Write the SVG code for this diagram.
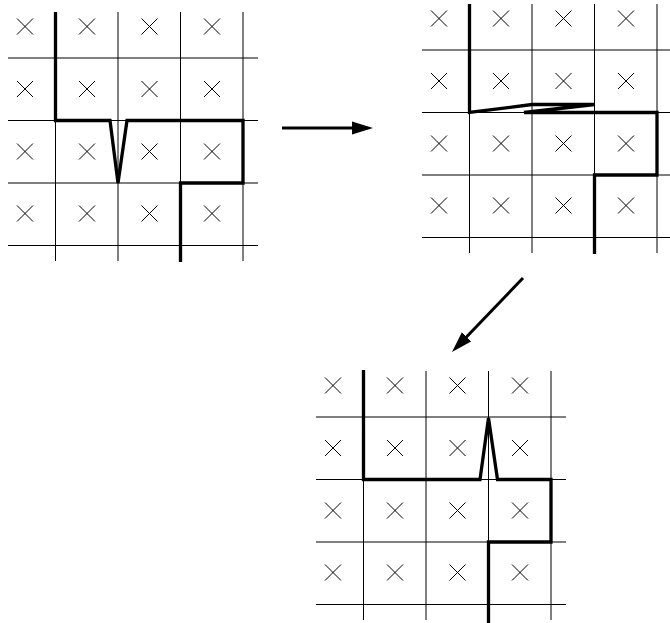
<svg xmlns="http://www.w3.org/2000/svg" xmlns:xlink="http://www.w3.org/1999/xlink" width="670" height="623" viewBox="0 0 670 623">
  <style>
    .thin { stroke: #000; stroke-width: 1; fill: none; }
    .cross { stroke: #000; stroke-width: 1; fill: none; }
    .wall { stroke: #000; stroke-width: 3.3; fill: none; stroke-linejoin: miter; stroke-miterlimit: 4; }
    .arrow { stroke: #000; stroke-width: 3; fill: none; }
  </style>
  <defs>
    <path id="x" class="cross" d="M-8,-8 L8,8 M-8,8 L8,-8"/>
    <g id="grid">
      <path class="thin" d="M55.5,12 V261 M118,12 V261 M180.5,12 V261 M243,12 V261 M8,58 H258 M8,120.5 H258 M8,183 H258 M8,245.5 H258"/>
      <use xlink:href="#x" x="25" y="26.5"/><use xlink:href="#x" x="87" y="26.5"/><use xlink:href="#x" x="149.5" y="26.5"/><use xlink:href="#x" x="212" y="26.5"/>
      <use xlink:href="#x" x="25" y="89"/><use xlink:href="#x" x="87" y="89"/><use xlink:href="#x" x="149.5" y="89"/><use xlink:href="#x" x="212" y="89"/>
      <use xlink:href="#x" x="25" y="151.5"/><use xlink:href="#x" x="87" y="151.5"/><use xlink:href="#x" x="149.5" y="151.5"/><use xlink:href="#x" x="212" y="151.5"/>
      <use xlink:href="#x" x="25" y="213.5"/><use xlink:href="#x" x="87" y="213.5"/><use xlink:href="#x" x="149.5" y="213.5"/><use xlink:href="#x" x="212" y="213.5"/>
    </g>
    <marker id="head" markerUnits="userSpaceOnUse" markerWidth="22" markerHeight="14" refX="4" refY="7" orient="auto">
      <path d="M0,0.5 L21,7 L0,13.5 z" fill="#000"/>
    </marker>
  </defs>

  <g id="grid1">
    <use xlink:href="#grid"/>
    <path class="wall" d="M55.5,12 V120.5 H110 L118,183 L127,120.5 H243 V183 H180.5 V262"/>
  </g>

  <g id="grid2" transform="translate(414,-8)">
    <use xlink:href="#grid"/>
    <path class="wall" d="M55.5,12 V120.5 L118,112.5 H180.5 L110,120.5 H243 V183 H180.5 V262"/>
  </g>

  <g id="grid3" transform="translate(308,359)">
    <use xlink:href="#grid"/>
    <path class="wall" d="M55.5,11 V120.5 H172 L180.5,59 L189.5,120.5 H243 V183 H180.5 V264"/>
  </g>

  <g id="connectors">
    <line class="arrow" x1="282" y1="128" x2="356" y2="128" marker-end="url(#head)"/>
    <line class="arrow" x1="523" y1="278" x2="463.8" y2="339.7" marker-end="url(#head)"/>
  </g>
</svg>
